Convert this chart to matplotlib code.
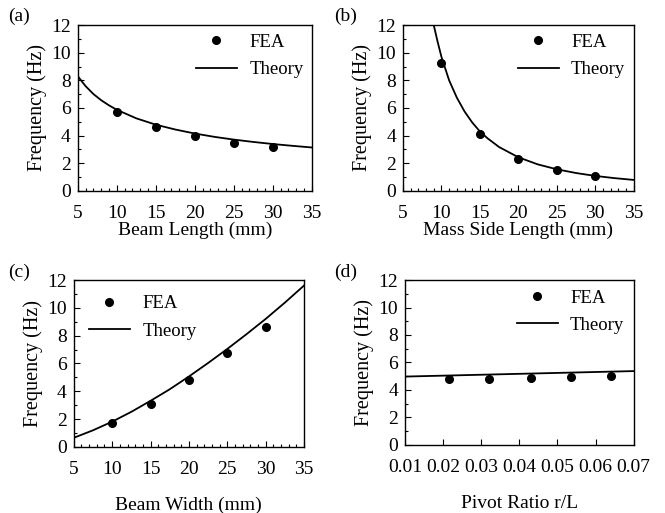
import numpy as np
import matplotlib
matplotlib.use("Agg")
import matplotlib.pyplot as plt
from matplotlib.ticker import MultipleLocator

plt.rcParams["font.family"] = ["Liberation Serif", "DejaVu Serif"]
plt.rcParams["mathtext.fontset"] = "stix"

# (a) beam length
a_fea_x = [10, 15, 20, 25, 30]
a_fea_y = [5.7, 4.6, 3.95, 3.5, 3.2]
a_th_x = [5, 6, 7, 8, 9, 10, 12.5, 15, 17.5, 20, 22.5, 25, 27.5, 30, 32.5, 35]
a_th_y = [8.3, 7.58, 7.01, 6.56, 6.19, 5.87, 5.25, 4.79, 4.44, 4.15, 3.91, 3.71, 3.54, 3.39, 3.26, 3.14]

# (b) mass side length
b_fea_x = [10, 15, 20, 25, 30]
b_fea_y = [9.25, 4.1, 2.3, 1.5, 1.05]
b_th_x = [9, 9.5, 10, 11, 12, 13, 14, 15, 16, 17.5, 20, 22.5, 25, 27.5, 30, 32.5, 35]
b_th_y = [12.0, 10.8, 9.7, 8.0, 6.75, 5.75, 4.95, 4.3, 3.8, 3.17, 2.43, 1.92, 1.56, 1.29, 1.08, 0.92, 0.79]

# (c) beam width
c_fea_x = [10, 15, 20, 25, 30]
c_fea_y = [1.7, 3.05, 4.8, 6.75, 8.65]
c_th_x = [5, 7.5, 10, 12.5, 15, 17.5, 20, 22.5, 25, 27.5, 30, 32.5, 35]
c_th_y = [0.65, 1.19, 1.81, 2.52, 3.31, 4.14, 5.06, 6.03, 7.04, 8.1, 9.2, 10.37, 11.6]

# (d) pivot ratio
d_fea_x = [0.0215, 0.032, 0.043, 0.0535, 0.064]
d_fea_y = [4.8, 4.8, 4.85, 4.95, 5.0]
d_th_x = [0.01, 0.04, 0.07]
d_th_y = [4.97, 5.17, 5.37]

fig = plt.figure(figsize=(6.65, 5.13), dpi=100)

panels = [
    dict(rect=[0.117, 0.628, 0.352, 0.323], fx=a_fea_x, fy=a_fea_y, tx=a_th_x, ty=a_th_y,
         xlabel="Beam Length (mm)", tag="(a)", tagpos=(0.012, 0.968), loc="upper right",
         lpad=0, bpad=0.05),
    dict(rect=[0.606, 0.628, 0.347, 0.323], fx=b_fea_x, fy=b_fea_y, tx=b_th_x, ty=b_th_y,
         xlabel="Mass Side Length (mm)", tag="(b)", tagpos=(0.503, 0.968), loc="upper right",
         lpad=0, bpad=0.05),
    dict(rect=[0.111, 0.129, 0.346, 0.325], fx=c_fea_x, fy=c_fea_y, tx=c_th_x, ty=c_th_y,
         xlabel="Beam Width (mm)", tag="(c)", tagpos=(0.012, 0.469), loc="upper left",
         lpad=14, bpad=0.4),
    dict(rect=[0.609, 0.133, 0.344, 0.321], fx=d_fea_x, fy=d_fea_y, tx=d_th_x, ty=d_th_y,
         xlabel="Pivot Ratio r/L", tag="(d)", tagpos=(0.503, 0.469), loc="upper right",
         lpad=14, bpad=0.1),
]

for i, p in enumerate(panels):
    ax = fig.add_axes(p["rect"])
    ax.plot(p["fx"], p["fy"], "o", color="black", markersize=5.5, label="FEA")
    ax.plot(p["tx"], p["ty"], "-", color="black", linewidth=1.3, label="Theory")
    ax.set_ylim(0, 12)
    ax.yaxis.set_major_locator(MultipleLocator(2))
    ax.yaxis.set_minor_locator(MultipleLocator(1))
    if i < 3:
        ax.set_xlim(5, 35)
        ax.xaxis.set_major_locator(MultipleLocator(5))
        ax.xaxis.set_minor_locator(MultipleLocator(1))
    else:
        ax.set_xlim(0.01, 0.07)
        ax.set_xticks([0.01, 0.02, 0.03, 0.04, 0.05, 0.06, 0.07])
        ax.set_xticklabels(["0.01", "0.02", "0.03", "0.04", "0.05", "0.06", "0.07"])
    ax.tick_params(which="both", direction="in", labelsize=14, width=0.8)
    ax.tick_params(which="major", length=4)
    ax.tick_params(axis="x", which="major", pad=10)
    ax.tick_params(axis="y", which="major", pad=5)
    ax.tick_params(which="minor", length=2)
    ax.set_xlabel(p["xlabel"], fontsize=14, labelpad=p["lpad"])
    ax.set_ylabel("Frequency (Hz)", fontsize=14.5, labelpad=3)
    for s in ax.spines.values():
        s.set_linewidth(1.0)
    ax.legend(loc=p["loc"], frameon=False, fontsize=13.5, handlelength=2.2,
              handletextpad=0.65, labelspacing=0.55, borderaxespad=p["bpad"])
    fig.text(p["tagpos"][0], p["tagpos"][1], p["tag"], fontsize=14, va="center")

fig.savefig("out.png", dpi=100)
